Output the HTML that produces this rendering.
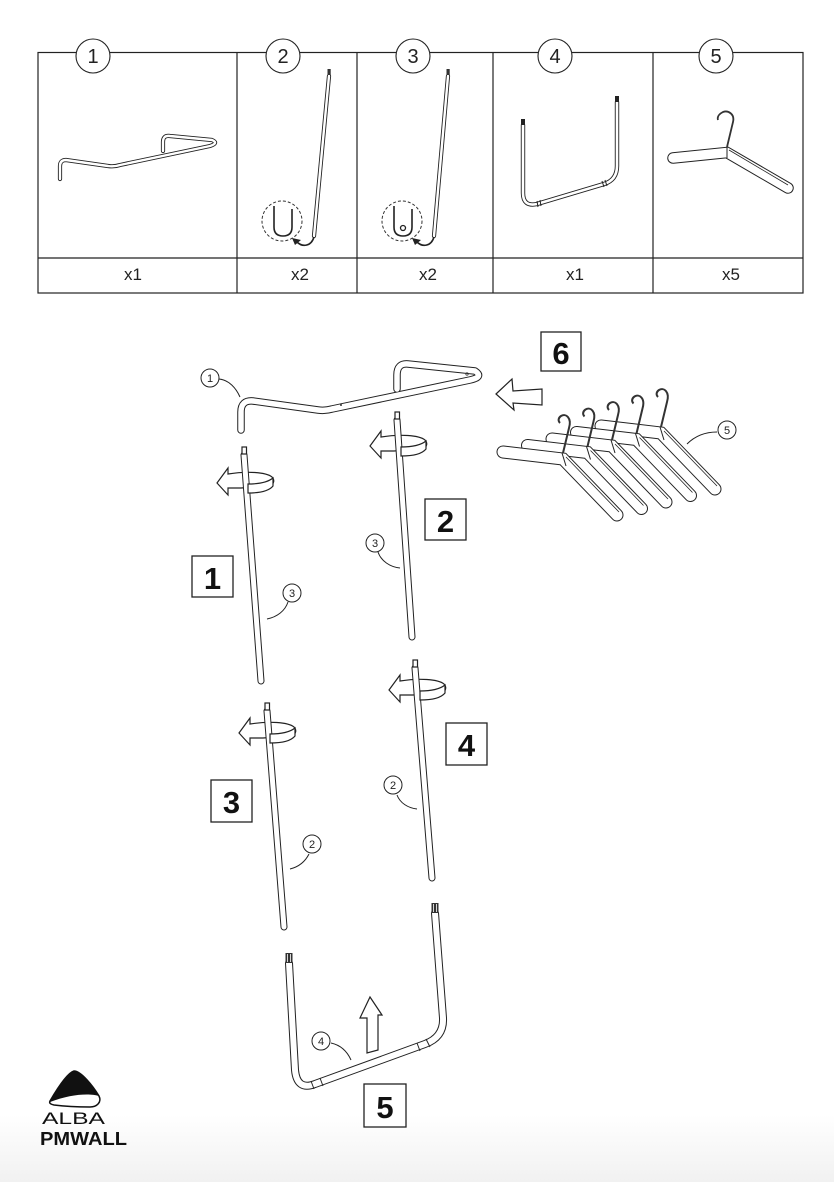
<!DOCTYPE html>
<html><head><meta charset="utf-8"><style>
html,body{margin:0;padding:0;background:#fff;}
svg{display:block;}
text{font-family:"Liberation Sans",sans-serif;}
</style></head><body>
<svg width="834" height="1182" viewBox="0 0 834 1182" xmlns="http://www.w3.org/2000/svg">
<defs>
<linearGradient id="bg" x1="0" y1="0" x2="0" y2="1">
<stop offset="0" stop-color="#ffffff"/><stop offset="1" stop-color="#f1f1f1"/>
</linearGradient>
</defs>
<rect width="834" height="1182" fill="#fff"/>
<rect y="1115" width="834" height="67" fill="url(#bg)"/>

<!-- ============ TABLE ============ -->
<g fill="none" stroke="#222" stroke-width="1.2">
<rect x="38" y="52.5" width="765" height="240.5"/>
<line x1="38" y1="258" x2="803" y2="258"/>
<line x1="237" y1="52.5" x2="237" y2="293"/>
<line x1="357" y1="52.5" x2="357" y2="293"/>
<line x1="493" y1="52.5" x2="493" y2="293"/>
<line x1="653" y1="52.5" x2="653" y2="293"/>
</g>
<g fill="#fff" stroke="#222" stroke-width="1.1">
<circle cx="93" cy="56" r="17"/>
<circle cx="283" cy="56" r="17"/>
<circle cx="413" cy="56" r="17"/>
<circle cx="555" cy="56" r="17"/>
<circle cx="716" cy="56" r="17"/>
</g>
<g font-size="20" fill="#222" text-anchor="middle">
<text x="93" y="63">1</text>
<text x="283" y="63">2</text>
<text x="413" y="63">3</text>
<text x="555" y="63">4</text>
<text x="716" y="63">5</text>
</g>
<g font-size="17" fill="#222" text-anchor="middle">
<text x="133" y="280">x1</text>
<text x="300" y="280">x2</text>
<text x="428" y="280">x2</text>
<text x="575" y="280">x1</text>
<text x="731" y="280">x5</text>
</g>

<!-- part 1 (table) -->
<path d="M60,179 L60,166 Q60,160 66,160 L108,166 Q114,167 120,165 L210,146 Q219,143 212,140 L170,136 Q163,135 163,142 L163,151" fill="none" stroke="#222" stroke-width="4.2" stroke-linecap="round" stroke-linejoin="round"/>
<path d="M60,179 L60,166 Q60,160 66,160 L108,166 Q114,167 120,165 L210,146 Q219,143 212,140 L170,136 Q163,135 163,142 L163,151" fill="none" stroke="#fff" stroke-width="2.4" stroke-linecap="round" stroke-linejoin="round"/>

<!-- part 2 (table) -->
<line x1="329" y1="76" x2="314" y2="236" stroke="#222" stroke-width="4.2" stroke-linecap="round"/>
<line x1="329" y1="76" x2="314" y2="236" stroke="#fff" stroke-width="2.4" stroke-linecap="round"/>
<rect x="327.5" y="69" width="3.2" height="6" fill="#333"/>
<circle cx="282" cy="221" r="20" fill="none" stroke="#333" stroke-width="1" stroke-dasharray="3,2"/>
<path d="M274,206 L274,227 Q274,236 283,236 Q292,236 292,227 L292,209" fill="none" stroke="#222" stroke-width="1.6"/>
<path d="M314,237 C311,247 302,247 297,242" fill="none" stroke="#222" stroke-width="1.6"/>
<polygon points="292,238 301,240 295,245" fill="#222"/>

<!-- part 3 (table) -->
<line x1="448" y1="76" x2="434" y2="236" stroke="#222" stroke-width="4.2" stroke-linecap="round"/>
<line x1="448" y1="76" x2="434" y2="236" stroke="#fff" stroke-width="2.4" stroke-linecap="round"/>
<rect x="446.5" y="69" width="3.2" height="6" fill="#333"/>
<circle cx="402" cy="221" r="20" fill="none" stroke="#333" stroke-width="1" stroke-dasharray="3,2"/>
<path d="M394,206 L394,227 Q394,236 403,236 Q412,236 412,227 L412,209" fill="none" stroke="#222" stroke-width="1.6"/>
<circle cx="403" cy="228" r="2.5" fill="none" stroke="#222" stroke-width="1.3"/>
<path d="M434,237 C431,247 422,247 417,242" fill="none" stroke="#222" stroke-width="1.6"/>
<polygon points="412,238 421,240 415,245" fill="#222"/>

<!-- part 4 (table) -->
<path d="M523,125 L523,193 Q523,207 537,204 L604,184 Q617,180 617,166 L617,102" fill="none" stroke="#222" stroke-width="4.4" stroke-linecap="round" stroke-linejoin="round"/>
<path d="M523,125 L523,193 Q523,207 537,204 L604,184 Q617,180 617,166 L617,102" fill="none" stroke="#fff" stroke-width="2.6" stroke-linecap="round" stroke-linejoin="round"/>
<rect x="521" y="119" width="4" height="6" fill="#222"/>
<rect x="615" y="96" width="4" height="6" fill="#222"/>
<g stroke="#222" stroke-width="1">
<line x1="537" y1="201" x2="538" y2="207"/><line x1="540" y1="200" x2="541" y2="206"/>
<line x1="602" y1="181" x2="604" y2="187"/><line x1="605" y1="180" x2="607" y2="186"/>
</g>

<!-- part 5 (table) hanger -->
<path d="M673,158 L727,152.5 L788,188" fill="none" stroke="#222" stroke-width="11.5" stroke-linecap="round" stroke-linejoin="miter"/>
<path d="M673,158 L727,152.5 L788,188" fill="none" stroke="#fff" stroke-width="9.5" stroke-linecap="round" stroke-linejoin="miter"/>
<line x1="727" y1="147" x2="727" y2="158" stroke="#222" stroke-width="1"/>
<line x1="729" y1="150" x2="788" y2="185" stroke="#222" stroke-width="0.8"/>
<path d="M727,147 L733,122 C735,114 728,110 723,112 C719,114 717,117 718,120" fill="none" stroke="#333" stroke-width="1.8"/>

<!-- ============ MAIN ASSEMBLY ============ -->
<path d="M241,430 L241,412 Q241,400 253,401 L318,410 Q325,411 332,409 L470,380 Q484,377 475,371 L408,364 Q397,363 397,375 L397,389" fill="none" stroke="#222" stroke-width="7.5" stroke-linecap="round" stroke-linejoin="round"/>
<path d="M241,430 L241,412 Q241,400 253,401 L318,410 Q325,411 332,409 L470,380 Q484,377 475,371 L408,364 Q397,363 397,375 L397,389" fill="none" stroke="#fff" stroke-width="5.5" stroke-linecap="round" stroke-linejoin="round"/>
<circle cx="341" cy="405" r="1" fill="#333"/>
<circle cx="467" cy="374" r="1.2" fill="none" stroke="#333" stroke-width="0.8"/>
<circle cx="210" cy="378" r="9" fill="#fff" stroke="#222" stroke-width="1"/>
<text x="210" y="382" font-size="11" text-anchor="middle" fill="#222">1</text>
<path d="M219,379 C229,380 236,388 240,397" fill="none" stroke="#222" stroke-width="1"/>

<rect x="541" y="332" width="40" height="39" fill="#fff" stroke="#222" stroke-width="1.3"/>
<text x="561" y="364" font-size="31" font-weight="bold" text-anchor="middle" fill="#111">6</text>
<polygon points="496,394 512,379 513,391 542,389 542,405 513,403 514,410" fill="#fff" stroke="#222" stroke-width="1.2" stroke-linejoin="miter"/>

<!-- hangers -->
<g transform="translate(98,-26)">
<path d="M503,452 L563,459 L617,515" fill="none" stroke="#222" stroke-width="13" stroke-linecap="round"/>
<path d="M503,452 L563,459 L617,515" fill="none" stroke="#fff" stroke-width="11" stroke-linecap="round"/>
<line x1="562" y1="453" x2="566" y2="466" stroke="#222" stroke-width="1"/>
<line x1="566" y1="457" x2="619" y2="512" stroke="#222" stroke-width="0.8"/>
<path d="M563,453 L569,428 C572,418 566,413 561,416 C558,418 558,421 560,423" fill="none" stroke="#333" stroke-width="2"/>
</g>
<g transform="translate(73.5,-19.5)">
<path d="M503,452 L563,459 L617,515" fill="none" stroke="#222" stroke-width="13" stroke-linecap="round"/>
<path d="M503,452 L563,459 L617,515" fill="none" stroke="#fff" stroke-width="11" stroke-linecap="round"/>
<line x1="562" y1="453" x2="566" y2="466" stroke="#222" stroke-width="1"/>
<line x1="566" y1="457" x2="619" y2="512" stroke="#222" stroke-width="0.8"/>
<path d="M563,453 L569,428 C572,418 566,413 561,416 C558,418 558,421 560,423" fill="none" stroke="#333" stroke-width="2"/>
</g>
<g transform="translate(49,-13)">
<path d="M503,452 L563,459 L617,515" fill="none" stroke="#222" stroke-width="13" stroke-linecap="round"/>
<path d="M503,452 L563,459 L617,515" fill="none" stroke="#fff" stroke-width="11" stroke-linecap="round"/>
<line x1="562" y1="453" x2="566" y2="466" stroke="#222" stroke-width="1"/>
<line x1="566" y1="457" x2="619" y2="512" stroke="#222" stroke-width="0.8"/>
<path d="M563,453 L569,428 C572,418 566,413 561,416 C558,418 558,421 560,423" fill="none" stroke="#333" stroke-width="2"/>
</g>
<g transform="translate(24.5,-6.5)">
<path d="M503,452 L563,459 L617,515" fill="none" stroke="#222" stroke-width="13" stroke-linecap="round"/>
<path d="M503,452 L563,459 L617,515" fill="none" stroke="#fff" stroke-width="11" stroke-linecap="round"/>
<line x1="562" y1="453" x2="566" y2="466" stroke="#222" stroke-width="1"/>
<line x1="566" y1="457" x2="619" y2="512" stroke="#222" stroke-width="0.8"/>
<path d="M563,453 L569,428 C572,418 566,413 561,416 C558,418 558,421 560,423" fill="none" stroke="#333" stroke-width="2"/>
</g>
<g>
<path d="M503,452 L563,459 L617,515" fill="none" stroke="#222" stroke-width="13" stroke-linecap="round"/>
<path d="M503,452 L563,459 L617,515" fill="none" stroke="#fff" stroke-width="11" stroke-linecap="round"/>
<line x1="562" y1="453" x2="566" y2="466" stroke="#222" stroke-width="1"/>
<line x1="566" y1="457" x2="619" y2="512" stroke="#222" stroke-width="0.8"/>
<path d="M563,453 L569,428 C572,418 566,413 561,416 C558,418 558,421 560,423" fill="none" stroke="#333" stroke-width="2"/>
</g>
<circle cx="727" cy="430" r="9" fill="#fff" stroke="#222" stroke-width="1"/>
<text x="727" y="434" font-size="11" text-anchor="middle" fill="#222">5</text>
<path d="M717,432 C704,432 694,437 687,444" fill="none" stroke="#222" stroke-width="1"/>

<!-- STEP 1 -->
<g transform="translate(217,483)">
<path d="M0,0 L11,-15 L11,-9 C30,-12 49,-11 55,-6 C58,-3 57,1 53,3 L24,5 L11,5 L11,12 Z" fill="#fff" stroke="#222" stroke-width="1.2" stroke-linejoin="miter"/>
</g>
<line x1="244" y1="455" x2="261" y2="681" stroke="#222" stroke-width="7" stroke-linecap="round"/>
<line x1="244" y1="455" x2="261" y2="681" stroke="#fff" stroke-width="5" stroke-linecap="round"/>
<rect x="242" y="447" width="4.5" height="7" fill="#fff" stroke="#222" stroke-width="1.2"/>
<g transform="translate(217,483)">
<path d="M31,1 C42,1 51,-1 56,-5 L56,3 C52,8 42,10 31,10 Z" fill="#fff" stroke="#222" stroke-width="1.2"/>
</g>
<rect x="192" y="556" width="41" height="41" fill="#fff" stroke="#222" stroke-width="1.3"/>
<text x="212.5" y="589" font-size="31" font-weight="bold" text-anchor="middle" fill="#111">1</text>
<circle cx="292" cy="593" r="9" fill="#fff" stroke="#222" stroke-width="1"/>
<text x="292" y="597" font-size="11" text-anchor="middle" fill="#222">3</text>
<path d="M288,602 C285,611 277,617 267,619" fill="none" stroke="#222" stroke-width="1"/>

<!-- STEP 2 -->
<g transform="translate(370,446)">
<path d="M0,0 L11,-15 L11,-9 C30,-12 49,-11 55,-6 C58,-3 57,1 53,3 L24,5 L11,5 L11,12 Z" fill="#fff" stroke="#222" stroke-width="1.2" stroke-linejoin="miter"/>
</g>
<line x1="397" y1="420" x2="412" y2="637" stroke="#222" stroke-width="7" stroke-linecap="round"/>
<line x1="397" y1="420" x2="412" y2="637" stroke="#fff" stroke-width="5" stroke-linecap="round"/>
<rect x="395" y="412" width="4.5" height="7" fill="#fff" stroke="#222" stroke-width="1.2"/>
<g transform="translate(370,446)">
<path d="M31,1 C42,1 51,-1 56,-5 L56,3 C52,8 42,10 31,10 Z" fill="#fff" stroke="#222" stroke-width="1.2"/>
</g>
<rect x="425" y="499" width="41" height="41" fill="#fff" stroke="#222" stroke-width="1.3"/>
<text x="445.5" y="532" font-size="31" font-weight="bold" text-anchor="middle" fill="#111">2</text>
<circle cx="375" cy="543" r="9" fill="#fff" stroke="#222" stroke-width="1"/>
<text x="375" y="547" font-size="11" text-anchor="middle" fill="#222">3</text>
<path d="M378,552 C381,561 390,567 400,568" fill="none" stroke="#222" stroke-width="1"/>

<!-- STEP 3 -->
<g transform="translate(239,733)">
<path d="M0,0 L11,-15 L11,-9 C30,-12 49,-11 55,-6 C58,-3 57,1 53,3 L24,5 L11,5 L11,12 Z" fill="#fff" stroke="#222" stroke-width="1.2" stroke-linejoin="miter"/>
</g>
<line x1="267" y1="711" x2="284" y2="927" stroke="#222" stroke-width="7" stroke-linecap="round"/>
<line x1="267" y1="711" x2="284" y2="927" stroke="#fff" stroke-width="5" stroke-linecap="round"/>
<rect x="265" y="703" width="4.5" height="7" fill="#fff" stroke="#222" stroke-width="1.2"/>
<g transform="translate(239,733)">
<path d="M31,1 C42,1 51,-1 56,-5 L56,3 C52,8 42,10 31,10 Z" fill="#fff" stroke="#222" stroke-width="1.2"/>
</g>
<rect x="211" y="780" width="41" height="42" fill="#fff" stroke="#222" stroke-width="1.3"/>
<text x="231.5" y="813" font-size="31" font-weight="bold" text-anchor="middle" fill="#111">3</text>
<circle cx="312" cy="844" r="9" fill="#fff" stroke="#222" stroke-width="1"/>
<text x="312" y="848" font-size="11" text-anchor="middle" fill="#222">2</text>
<path d="M309,854 C305,862 298,867 290,869" fill="none" stroke="#222" stroke-width="1"/>

<!-- STEP 4 -->
<g transform="translate(389,690)">
<path d="M0,0 L11,-15 L11,-9 C30,-12 49,-11 55,-6 C58,-3 57,1 53,3 L24,5 L11,5 L11,12 Z" fill="#fff" stroke="#222" stroke-width="1.2" stroke-linejoin="miter"/>
</g>
<line x1="415" y1="668" x2="432" y2="878" stroke="#222" stroke-width="7" stroke-linecap="round"/>
<line x1="415" y1="668" x2="432" y2="878" stroke="#fff" stroke-width="5" stroke-linecap="round"/>
<rect x="413" y="660" width="4.5" height="7" fill="#fff" stroke="#222" stroke-width="1.2"/>
<g transform="translate(389,690)">
<path d="M31,1 C42,1 51,-1 56,-5 L56,3 C52,8 42,10 31,10 Z" fill="#fff" stroke="#222" stroke-width="1.2"/>
</g>
<rect x="446" y="723" width="41" height="42" fill="#fff" stroke="#222" stroke-width="1.3"/>
<text x="466.5" y="756" font-size="31" font-weight="bold" text-anchor="middle" fill="#111">4</text>
<circle cx="393" cy="785" r="9" fill="#fff" stroke="#222" stroke-width="1"/>
<text x="393" y="789" font-size="11" text-anchor="middle" fill="#222">2</text>
<path d="M397,795 C400,803 408,808 417,809" fill="none" stroke="#222" stroke-width="1"/>

<!-- STEP 5 -->
<path d="M289,963 L295,1070 Q297,1091 315,1084 L425,1044 Q444,1037 443,1018 L435,913" fill="none" stroke="#222" stroke-width="8" stroke-linecap="round" stroke-linejoin="round"/>
<path d="M289,963 L295,1070 Q297,1091 315,1084 L425,1044 Q444,1037 443,1018 L435,913" fill="none" stroke="#fff" stroke-width="6" stroke-linecap="round" stroke-linejoin="round"/>
<rect x="285.5" y="953" width="7" height="10" fill="#333"/>
<line x1="287.5" y1="954" x2="287.5" y2="962" stroke="#fff" stroke-width="0.8"/>
<line x1="290.5" y1="954" x2="290.5" y2="962" stroke="#fff" stroke-width="0.8"/>
<rect x="431.5" y="903" width="7" height="10" fill="#333"/>
<line x1="433.5" y1="904" x2="433.5" y2="912" stroke="#fff" stroke-width="0.8"/>
<line x1="436.5" y1="904" x2="436.5" y2="912" stroke="#fff" stroke-width="0.8"/>
<g stroke="#222" stroke-width="1">
<line x1="311" y1="1081" x2="314" y2="1089"/><line x1="320" y1="1078" x2="323" y2="1086"/>
<line x1="417" y1="1043" x2="420" y2="1051"/><line x1="426" y1="1039" x2="430" y2="1047"/>
</g>
<polygon points="370,997 382,1015 378,1015 378,1050 367,1053 367,1018 360,1018" fill="#fff" stroke="#222" stroke-width="1.2"/>
<circle cx="321" cy="1041" r="9" fill="#fff" stroke="#222" stroke-width="1"/>
<text x="321" y="1045" font-size="11" text-anchor="middle" fill="#222">4</text>
<path d="M331,1043 C340,1045 347,1051 351,1060" fill="none" stroke="#222" stroke-width="1"/>
<rect x="364" y="1084" width="42" height="43" fill="#fff" stroke="#222" stroke-width="1.3"/>
<text x="385" y="1118" font-size="31" font-weight="bold" text-anchor="middle" fill="#111">5</text>

<!-- LOGO -->
<path d="M50,1101 C57,1089 67,1073 74,1071 C81,1071 93,1086 99,1096 C102,1102 97,1107 90,1107 C78,1107 62,1106 54,1105 C50,1104 49,1103 50,1101 Z" fill="#fff" stroke="#111" stroke-width="1.5"/>
<path d="M50,1101 C57,1089 67,1073 74,1071 C81,1071 93,1086 99,1096 C90,1093 70,1094 50,1102 Z" fill="#111"/>
<text x="42" y="1124" font-size="17" fill="#111" textLength="63" lengthAdjust="spacingAndGlyphs">ALBA</text>
<text x="40" y="1145" font-size="18" font-weight="bold" fill="#111" textLength="87" lengthAdjust="spacingAndGlyphs">PMWALL</text>
</svg>
</body></html>
